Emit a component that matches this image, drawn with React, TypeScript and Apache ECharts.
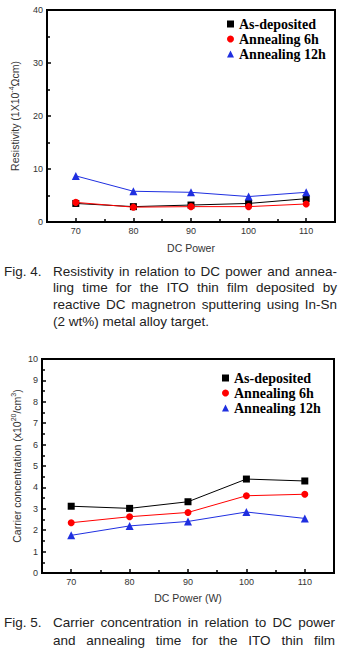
import React, { useEffect, useRef } from 'react';
import * as echarts from 'echarts';

// ---- data ----
const dcPower = [70, 80, 90, 100, 110];
const dcPowerMinor = [75, 85, 95, 105];
const seriesNames = ['As-deposited', 'Annealing 6h', 'Annealing 12h'];

const resAsDeposited = [3.5, 2.9, 3.2, 3.5, 4.4];
const resAnneal6h = [3.7, 2.8, 2.9, 2.9, 3.4];
const resAnneal12h = [8.7, 5.8, 5.6, 4.8, 5.6];

const carAsDeposited = [3.12, 3.02, 3.33, 4.39, 4.3];
const carAnneal6h = [2.35, 2.63, 2.83, 3.61, 3.68];
const carAnneal12h = [1.76, 2.2, 2.41, 2.85, 2.55];

const fig4Label = 'Fig. 4.';
const fig4Lines = [
  'Resistivity in relation to DC power and annea-',
  'ling time for the ITO thin film deposited by',
  'reactive DC magnetron sputtering using In-Sn',
  '(2 wt%) metal alloy target.',
];
const fig5Label = 'Fig. 5.';
const fig5Lines = [
  'Carrier concentration in relation to DC power',
  'and annealing time for the ITO thin film',
  'deposited by reactive DC magnetron sputtering',
];

const colors = ['#000000', '#ff0000', '#1f2fe0'];
const symbols = ['rect', 'circle', 'triangle'];
const symbolSizes = [7, 7, 8];

const SANS = '"Liberation Sans", Arial, sans-serif';
const SERIF = '"Liberation Serif", "Times New Roman", serif';

function Caption(props: { top: number; right: number; label: string; lines: string[]; lh: number }) {
  const { top, right, label, lines, lh } = props;
  return (
    <div
      style={{
        position: 'absolute',
        left: 4,
        top,
        width: right - 4,
        fontFamily: SANS,
        fontSize: 13.5,
        lineHeight: lh + 'px',
        color: '#222',
      }}
    >
      <div style={{ position: 'absolute', left: 0, top: 0 }}>{label}</div>
      <div style={{ position: 'absolute', left: 49, top: 0, width: right - 53 }}>
        {lines.map((l, i) => (
          <div
            key={i}
            style={{
              textAlign: 'justify',
              textAlignLast: i < lines.length - 1 ? 'justify' : 'left',
            } as any}
          >
            {l}
          </div>
        ))}
      </div>
    </div>
  );
}

export default function App() {
  const ref = useRef<HTMLDivElement>(null);

  useEffect(() => {
    const chart = echarts.init(ref.current!, null, { renderer: 'svg' });

    const axisLabelStyle = { color: '#333', fontFamily: SANS, fontSize: 9, margin: 4 };
    const nameStyle = () => ({
      color: '#333',
      fontFamily: SANS,
      fontSize: 10.5,
      lineHeight: 13,
      rich: {
        sup: { fontSize: 7, lineHeight: 13, verticalAlign: 'top', color: '#333', fontFamily: SANS, padding: [0, 0, 4, 0] },
      },
    });

    const mainX = (gridIndex: number, name: string, gap: number) => ({
      type: 'value',
      gridIndex,
      min: 65,
      max: 115,
      name,
      nameLocation: 'middle',
      nameGap: gap,
      nameMoveOverlap: false,
      nameTextStyle: nameStyle(),
      axisLine: { show: true, onZero: false, lineStyle: { color: '#000', width: 2 } },
      axisTick: { show: true, inside: true, length: 4, customValues: dcPower, lineStyle: { color: '#000', width: 1.5 } },
      axisLabel: { ...axisLabelStyle, customValues: dcPower },
      splitLine: { show: false },
    });
    const minorX = (gridIndex: number) => ({
      type: 'value',
      gridIndex,
      min: 65,
      max: 115,
      position: 'bottom',
      axisLine: { show: false },
      axisTick: { show: true, inside: true, length: 3, customValues: dcPowerMinor, lineStyle: { color: '#000', width: 1.5 } },
      axisLabel: { show: false, customValues: dcPowerMinor },
      splitLine: { show: false },
    });
    const mainY = (gridIndex: number, max: number, interval: number, name: string, gap: number) => ({
      type: 'value',
      gridIndex,
      min: 0,
      max,
      interval,
      name,
      nameLocation: 'middle',
      nameGap: gap,
      nameRotate: 90,
      nameMoveOverlap: false,
      nameTextStyle: nameStyle(),
      axisLine: { show: true, onZero: false, lineStyle: { color: '#000', width: 2 } },
      axisTick: { show: true, inside: true, length: 4, lineStyle: { color: '#000', width: 1.5 } },
      minorTick: { show: true, splitNumber: 2, length: 3, lineStyle: { color: '#000', width: 1.5 } },
      axisLabel: axisLabelStyle,
      splitLine: { show: false },
      minorSplitLine: { show: false },
    });

    const resData = [resAsDeposited, resAnneal6h, resAnneal12h];
    const carData = [carAsDeposited, carAnneal6h, carAnneal12h];

    const mkSeries = (vals: number[][], xi: number, yi: number) =>
      vals.map((v, k) => ({
        type: 'line',
        name: seriesNames[k],
        xAxisIndex: xi,
        yAxisIndex: yi,
        data: dcPower.map((x, i) => [x, v[i]]),
        symbol: symbols[k],
        symbolSize: symbolSizes[k],
        showSymbol: true,
        lineStyle: { color: colors[k], width: 1 },
        itemStyle: { color: colors[k] },
        emphasis: { disabled: true },
        z: 3 + k,
      }));

    const legendBase = {
      orient: 'vertical',
      itemWidth: 7,
      itemHeight: 7,
      selectedMode: false,
      data: seriesNames.map((n, k) => ({ name: n, icon: symbols[k] })),
      textStyle: { fontFamily: SERIF, fontWeight: 'bold', fontSize: 14, color: '#000', lineHeight: 14 },
    };

    chart.setOption({
      animation: false,
      backgroundColor: '#fff',
      grid: [
        { left: 47, top: 10, width: 288, height: 212, show: true, borderColor: '#000', borderWidth: 2, containLabel: false, outerBoundsMode: 'none' },
        { left: 42, top: 359, width: 292, height: 214, show: true, borderColor: '#000', borderWidth: 2, containLabel: false, outerBoundsMode: 'none' },
      ],
      xAxis: [
        mainX(0, 'DC Power', 19),
        minorX(0),
        mainX(1, 'DC Power (W)', 18),
        minorX(1),
      ],
      yAxis: [
        mainY(0, 40, 10, 'Resistivity (1X10{sup|-4}Ωcm)', 26),
        mainY(1, 10, 1, 'Carrier concentration (x10{sup|20}/cm{sup|3})', 19),
      ],
      legend: [
        { ...legendBase, left: 222, top: 12, itemGap: 1 },
        { ...legendBase, left: 217, top: 366, itemGap: 1 },
      ],
      series: [...mkSeries(resData, 0, 0), ...mkSeries(carData, 2, 1)],
    });

    return () => chart.dispose();
  }, []);

  return (
    <div style={{ position: 'absolute', left: 0, top: 0, width: 341, height: 653, overflow: 'hidden', background: '#fff' }}>
      <div ref={ref} style={{ position: 'absolute', left: 0, top: 0, width: 341, height: 653 }} />
      <Caption top={263.6} right={337} label={fig4Label} lines={fig4Lines} lh={16.7} />
      <Caption top={614.3} right={335} label={fig5Label} lines={fig5Lines} lh={17.5} />
    </div>
  );
}
